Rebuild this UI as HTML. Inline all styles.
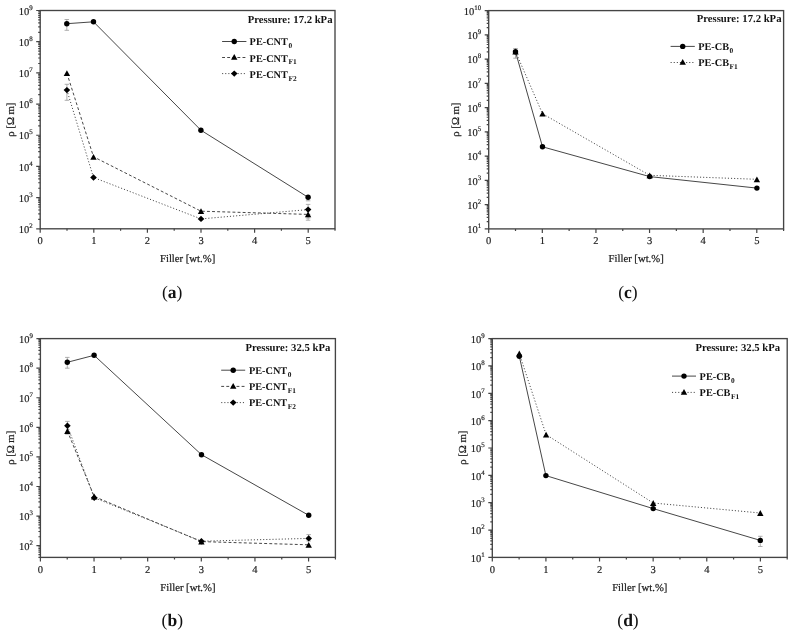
<!DOCTYPE html>
<html><head><meta charset="utf-8"><title>Resistivity vs filler</title>
<style>
html,body{margin:0;padding:0;background:#fff;}
body{width:794px;height:637px;overflow:hidden;}
svg{display:block;filter:grayscale(1);}
text{font-family:"Liberation Serif",serif;fill:#1c1c1c;text-rendering:geometricPrecision;}
.tl{font-size:10.5px;stroke:#1c1c1c;stroke-width:0.18px;}
.sup{font-size:6.9px;}
.at{font-size:10.7px;stroke:#1c1c1c;stroke-width:0.22px;}
.pr{font-size:10.7px;font-weight:bold;fill:#111;}
.lg{font-size:10.3px;font-weight:bold;fill:#111;}
.sub{font-size:7.4px;}
.cap{font-size:17.5px;fill:#111;}
</style></head>
<body>
<svg width="794" height="637" viewBox="0 0 794 637">
<rect width="794" height="637" fill="#fff"/>
<rect x="40.2" y="10.5" width="294.8" height="218.3" fill="none" stroke="#444444" stroke-width="1.35"/>
<path d="M40.2 228.8v4M67 228.8v2M93.8 228.8v4M120.6 228.8v2M147.4 228.8v4M174.2 228.8v2M201 228.8v4M227.8 228.8v2M254.6 228.8v4M281.4 228.8v2M308.2 228.8v4M335 228.8v2M40.2 228.8h-4M40.2 219.41h-2M40.2 213.92h-2M40.2 210.02h-2M40.2 207h-2M40.2 204.53h-2M40.2 202.45h-2M40.2 200.64h-2M40.2 199.04h-2M40.2 197.61h-4M40.2 188.23h-2M40.2 182.73h-2M40.2 178.84h-2M40.2 175.82h-2M40.2 173.35h-2M40.2 171.26h-2M40.2 169.45h-2M40.2 167.86h-2M40.2 166.43h-4M40.2 157.04h-2M40.2 151.55h-2M40.2 147.65h-2M40.2 144.63h-2M40.2 142.16h-2M40.2 140.07h-2M40.2 138.27h-2M40.2 136.67h-2M40.2 135.24h-4M40.2 125.86h-2M40.2 120.36h-2M40.2 116.47h-2M40.2 113.44h-2M40.2 110.98h-2M40.2 108.89h-2M40.2 107.08h-2M40.2 105.48h-2M40.2 104.06h-4M40.2 94.67h-2M40.2 89.18h-2M40.2 85.28h-2M40.2 82.26h-2M40.2 79.79h-2M40.2 77.7h-2M40.2 75.89h-2M40.2 74.3h-2M40.2 72.87h-4M40.2 63.48h-2M40.2 57.99h-2M40.2 54.1h-2M40.2 51.07h-2M40.2 48.6h-2M40.2 46.52h-2M40.2 44.71h-2M40.2 43.11h-2M40.2 41.69h-4M40.2 32.3h-2M40.2 26.81h-2M40.2 22.91h-2M40.2 19.89h-2M40.2 17.42h-2M40.2 15.33h-2M40.2 13.52h-2M40.2 11.93h-2M40.2 10.5h-4" stroke="#444444" stroke-width="1.2" fill="none"/>
<text x="40.2" y="244.3" text-anchor="middle" class="tl">0</text>
<text x="93.8" y="244.3" text-anchor="middle" class="tl">1</text>
<text x="147.4" y="244.3" text-anchor="middle" class="tl">2</text>
<text x="201" y="244.3" text-anchor="middle" class="tl">3</text>
<text x="254.6" y="244.3" text-anchor="middle" class="tl">4</text>
<text x="308.2" y="244.3" text-anchor="middle" class="tl">5</text>
<text x="32.7" y="233" text-anchor="end" class="tl">10<tspan class="sup" dy="-5.0">2</tspan></text>
<text x="32.7" y="201.81" text-anchor="end" class="tl">10<tspan class="sup" dy="-5.0">3</tspan></text>
<text x="32.7" y="170.63" text-anchor="end" class="tl">10<tspan class="sup" dy="-5.0">4</tspan></text>
<text x="32.7" y="139.44" text-anchor="end" class="tl">10<tspan class="sup" dy="-5.0">5</tspan></text>
<text x="32.7" y="108.26" text-anchor="end" class="tl">10<tspan class="sup" dy="-5.0">6</tspan></text>
<text x="32.7" y="77.07" text-anchor="end" class="tl">10<tspan class="sup" dy="-5.0">7</tspan></text>
<text x="32.7" y="45.89" text-anchor="end" class="tl">10<tspan class="sup" dy="-5.0">8</tspan></text>
<text x="32.7" y="14.7" text-anchor="end" class="tl">10<tspan class="sup" dy="-5.0">9</tspan></text>
<text x="187.6" y="262.1" text-anchor="middle" class="at">Filler [wt.%]</text>
<text transform="translate(13.8 119.6) rotate(-90)" text-anchor="middle" class="at">ρ [Ω m]</text>
<path d="M66.8 19.5V30.3M64.55 19.5h4.5M64.55 30.3h4.5" stroke="#9a9a9a" stroke-width="0.8" fill="none"/>
<path d="M66.9 84.3V100.3M64.65 84.3h4.5M64.65 100.3h4.5" stroke="#9a9a9a" stroke-width="0.8" fill="none"/>
<path d="M308.1 197.3V200.8M305.85 197.3h4.5M305.85 200.8h4.5" stroke="#9a9a9a" stroke-width="0.8" fill="none"/>
<path d="M308.1 204.4V220.2M305.85 204.4h4.5M305.85 220.2h4.5" stroke="#9a9a9a" stroke-width="0.8" fill="none"/>
<path d="M308.1 214.4V218M305.85 214.4h4.5M305.85 218h4.5" stroke="#9a9a9a" stroke-width="0.8" fill="none"/>
<path d="M66.8 23.7L93.5 21.8L200.9 130.2L308.1 197.3" stroke="#474747" stroke-width="1" fill="none"/>
<path d="M66.9 73.2L93.5 156.8L201 211.2L308.1 214.4" stroke="#474747" stroke-width="1" fill="none" stroke-dasharray="2.9 2.2"/>
<path d="M66.9 90.1L93.5 177.5L201 218.9L308.1 209.6" stroke="#474747" stroke-width="1" fill="none" stroke-dasharray="1.1 2"/>
<circle cx="66.8" cy="23.7" r="2.7" fill="#000"/>
<circle cx="93.5" cy="21.8" r="2.7" fill="#000"/>
<circle cx="200.9" cy="130.2" r="2.7" fill="#000"/>
<circle cx="308.1" cy="197.3" r="2.7" fill="#000"/>
<path d="M66.9 70.3L70.1 76.1L63.7 76.1Z" fill="#000"/>
<path d="M93.5 153.9L96.7 159.7L90.3 159.7Z" fill="#000"/>
<path d="M201 208.3L204.2 214.1L197.8 214.1Z" fill="#000"/>
<path d="M308.1 211.5L311.3 217.3L304.9 217.3Z" fill="#000"/>
<path d="M66.9 86.9L70.2 90.1L66.9 93.3L63.6 90.1Z" fill="#000"/>
<path d="M93.5 174.3L96.8 177.5L93.5 180.7L90.2 177.5Z" fill="#000"/>
<path d="M201 215.7L204.3 218.9L201 222.1L197.7 218.9Z" fill="#000"/>
<path d="M308.1 206.4L311.4 209.6L308.1 212.8L304.8 209.6Z" fill="#000"/>
<text x="332.5" y="22.9" text-anchor="end" class="pr">Pressure: 17.2 kPa</text>
<path d="M222.1 41.5L246.4 41.5" stroke="#474747" stroke-width="1" fill="none"/>
<circle cx="234.25" cy="41.5" r="2.7" fill="#000"/>
<text x="249.6" y="45.4" class="lg">PE-CNT<tspan class="sub" dx="0.5" dy="2.9">0</tspan></text>
<path d="M222.1 57.5L246.4 57.5" stroke="#474747" stroke-width="1" fill="none" stroke-dasharray="2.9 2.2"/>
<path d="M234.25 54.05L237.45 59.85L231.05 59.85Z" fill="#000"/>
<text x="249.6" y="61.5" class="lg">PE-CNT<tspan class="sub" dx="0.5" dy="2.9">F1</tspan></text>
<path d="M222.1 73.6L246.4 73.6" stroke="#474747" stroke-width="1" fill="none" stroke-dasharray="1.1 2"/>
<path d="M234.25 70.4L237.55 73.6L234.25 76.8L230.95 73.6Z" fill="#000"/>
<text x="249.6" y="77.6" class="lg">PE-CNT<tspan class="sub" dx="0.5" dy="2.9">F2</tspan></text>
<text x="172.2" y="297.6" text-anchor="middle" class="cap">(<tspan font-weight="bold">a</tspan>)</text>
<rect x="488.7" y="10.6" width="294.9" height="218.3" fill="none" stroke="#444444" stroke-width="1.35"/>
<path d="M488.7 228.9v4M515.51 228.9v2M542.32 228.9v4M569.13 228.9v2M595.94 228.9v4M622.75 228.9v2M649.55 228.9v4M676.36 228.9v2M703.17 228.9v4M729.98 228.9v2M756.79 228.9v4M783.6 228.9v2M488.7 228.9h-4M488.7 221.6h-2M488.7 217.33h-2M488.7 214.3h-2M488.7 211.95h-2M488.7 210.03h-2M488.7 208.4h-2M488.7 207h-2M488.7 205.75h-2M488.7 204.64h-4M488.7 197.34h-2M488.7 193.07h-2M488.7 190.04h-2M488.7 187.69h-2M488.7 185.77h-2M488.7 184.15h-2M488.7 182.74h-2M488.7 181.5h-2M488.7 180.39h-4M488.7 173.09h-2M488.7 168.82h-2M488.7 165.79h-2M488.7 163.43h-2M488.7 161.51h-2M488.7 159.89h-2M488.7 158.48h-2M488.7 157.24h-2M488.7 156.13h-4M488.7 148.83h-2M488.7 144.56h-2M488.7 141.53h-2M488.7 139.18h-2M488.7 137.26h-2M488.7 135.64h-2M488.7 134.23h-2M488.7 132.99h-2M488.7 131.88h-4M488.7 124.58h-2M488.7 120.3h-2M488.7 117.27h-2M488.7 114.92h-2M488.7 113h-2M488.7 111.38h-2M488.7 109.97h-2M488.7 108.73h-2M488.7 107.62h-4M488.7 100.32h-2M488.7 96.05h-2M488.7 93.02h-2M488.7 90.67h-2M488.7 88.75h-2M488.7 87.12h-2M488.7 85.72h-2M488.7 84.48h-2M488.7 83.37h-4M488.7 76.07h-2M488.7 71.79h-2M488.7 68.76h-2M488.7 66.41h-2M488.7 64.49h-2M488.7 62.87h-2M488.7 61.46h-2M488.7 60.22h-2M488.7 59.11h-4M488.7 51.81h-2M488.7 47.54h-2M488.7 44.51h-2M488.7 42.16h-2M488.7 40.24h-2M488.7 38.61h-2M488.7 37.21h-2M488.7 35.97h-2M488.7 34.86h-4M488.7 27.55h-2M488.7 23.28h-2M488.7 20.25h-2M488.7 17.9h-2M488.7 15.98h-2M488.7 14.36h-2M488.7 12.95h-2M488.7 11.71h-2M488.7 10.6h-4" stroke="#444444" stroke-width="1.2" fill="none"/>
<text x="488.7" y="244.4" text-anchor="middle" class="tl">0</text>
<text x="542.32" y="244.4" text-anchor="middle" class="tl">1</text>
<text x="595.94" y="244.4" text-anchor="middle" class="tl">2</text>
<text x="649.55" y="244.4" text-anchor="middle" class="tl">3</text>
<text x="703.17" y="244.4" text-anchor="middle" class="tl">4</text>
<text x="756.79" y="244.4" text-anchor="middle" class="tl">5</text>
<text x="481.2" y="233.1" text-anchor="end" class="tl">10<tspan class="sup" dy="-5.0">1</tspan></text>
<text x="481.2" y="208.84" text-anchor="end" class="tl">10<tspan class="sup" dy="-5.0">2</tspan></text>
<text x="481.2" y="184.59" text-anchor="end" class="tl">10<tspan class="sup" dy="-5.0">3</tspan></text>
<text x="481.2" y="160.33" text-anchor="end" class="tl">10<tspan class="sup" dy="-5.0">4</tspan></text>
<text x="481.2" y="136.08" text-anchor="end" class="tl">10<tspan class="sup" dy="-5.0">5</tspan></text>
<text x="481.2" y="111.82" text-anchor="end" class="tl">10<tspan class="sup" dy="-5.0">6</tspan></text>
<text x="481.2" y="87.57" text-anchor="end" class="tl">10<tspan class="sup" dy="-5.0">7</tspan></text>
<text x="481.2" y="63.31" text-anchor="end" class="tl">10<tspan class="sup" dy="-5.0">8</tspan></text>
<text x="481.2" y="39.06" text-anchor="end" class="tl">10<tspan class="sup" dy="-5.0">9</tspan></text>
<text x="481.2" y="14.8" text-anchor="end" class="tl">10<tspan class="sup" dy="-5.0">10</tspan></text>
<text x="636.15" y="262.2" text-anchor="middle" class="at">Filler [wt.%]</text>
<text transform="translate(458.5 119.6) rotate(-90)" text-anchor="middle" class="at">ρ [Ω m]</text>
<path d="M515.5 48.5V58.2M513.25 48.5h4.5M513.25 58.2h4.5" stroke="#9a9a9a" stroke-width="0.8" fill="none"/>
<path d="M515.5 51.8L542.5 146.8L649.7 176.6L756.9 188.1" stroke="#474747" stroke-width="1" fill="none"/>
<path d="M515.5 51.5L542.5 113.7L649.7 175.3L756.9 179.3" stroke="#474747" stroke-width="1" fill="none" stroke-dasharray="1.1 2"/>
<circle cx="515.5" cy="51.8" r="2.7" fill="#000"/>
<circle cx="542.5" cy="146.8" r="2.7" fill="#000"/>
<circle cx="649.7" cy="176.6" r="2.7" fill="#000"/>
<circle cx="756.9" cy="188.1" r="2.7" fill="#000"/>
<path d="M515.5 48.6L518.7 54.4L512.3 54.4Z" fill="#000"/>
<path d="M542.5 110.8L545.7 116.6L539.3 116.6Z" fill="#000"/>
<path d="M649.7 172.4L652.9 178.2L646.5 178.2Z" fill="#000"/>
<path d="M756.9 176.4L760.1 182.2L753.7 182.2Z" fill="#000"/>
<text x="781.5" y="22.2" text-anchor="end" class="pr">Pressure: 17.2 kPa</text>
<path d="M670.6 46.4L694.8 46.4" stroke="#474747" stroke-width="1" fill="none"/>
<circle cx="682.7" cy="46.4" r="2.7" fill="#000"/>
<text x="698.2" y="50.1" class="lg">PE-CB<tspan class="sub" dx="0.5" dy="2.9">0</tspan></text>
<path d="M670.6 62.5L694.8 62.5" stroke="#474747" stroke-width="1" fill="none" stroke-dasharray="1.1 2"/>
<path d="M682.7 59.05L685.9 64.85L679.5 64.85Z" fill="#000"/>
<text x="698.2" y="66" class="lg">PE-CB<tspan class="sub" dx="0.5" dy="2.9">F1</tspan></text>
<text x="627.9" y="297.6" text-anchor="middle" class="cap">(<tspan font-weight="bold">c</tspan>)</text>
<rect x="40.4" y="338.6" width="295" height="218.8" fill="none" stroke="#444444" stroke-width="1.35"/>
<path d="M40.4 557.4v4M67.22 557.4v2M94.04 557.4v4M120.85 557.4v2M147.67 557.4v4M174.49 557.4v2M201.31 557.4v4M228.13 557.4v2M254.95 557.4v4M281.76 557.4v2M308.58 557.4v4M335.4 557.4v2M40.4 557.4h-2M40.4 554.53h-2M40.4 552.19h-2M40.4 550.21h-2M40.4 548.5h-2M40.4 546.98h-2M40.4 545.63h-4M40.4 536.73h-2M40.4 531.52h-2M40.4 527.82h-2M40.4 524.96h-2M40.4 522.62h-2M40.4 520.64h-2M40.4 518.92h-2M40.4 517.41h-2M40.4 516.05h-4M40.4 507.15h-2M40.4 501.94h-2M40.4 498.25h-2M40.4 495.38h-2M40.4 493.04h-2M40.4 491.06h-2M40.4 489.35h-2M40.4 487.83h-2M40.4 486.48h-4M40.4 477.58h-2M40.4 472.37h-2M40.4 468.67h-2M40.4 465.81h-2M40.4 463.46h-2M40.4 461.48h-2M40.4 459.77h-2M40.4 458.26h-2M40.4 456.9h-4M40.4 448h-2M40.4 442.79h-2M40.4 439.1h-2M40.4 436.23h-2M40.4 433.89h-2M40.4 431.91h-2M40.4 430.19h-2M40.4 428.68h-2M40.4 427.33h-4M40.4 418.42h-2M40.4 413.22h-2M40.4 409.52h-2M40.4 406.65h-2M40.4 404.31h-2M40.4 402.33h-2M40.4 400.62h-2M40.4 399.1h-2M40.4 397.75h-4M40.4 388.85h-2M40.4 383.64h-2M40.4 379.95h-2M40.4 377.08h-2M40.4 374.74h-2M40.4 372.76h-2M40.4 371.04h-2M40.4 369.53h-2M40.4 368.18h-4M40.4 359.27h-2M40.4 354.06h-2M40.4 350.37h-2M40.4 347.5h-2M40.4 345.16h-2M40.4 343.18h-2M40.4 341.47h-2M40.4 339.95h-2M40.4 338.6h-4" stroke="#444444" stroke-width="1.2" fill="none"/>
<text x="40.4" y="572.9" text-anchor="middle" class="tl">0</text>
<text x="94.04" y="572.9" text-anchor="middle" class="tl">1</text>
<text x="147.67" y="572.9" text-anchor="middle" class="tl">2</text>
<text x="201.31" y="572.9" text-anchor="middle" class="tl">3</text>
<text x="254.95" y="572.9" text-anchor="middle" class="tl">4</text>
<text x="308.58" y="572.9" text-anchor="middle" class="tl">5</text>
<text x="32.9" y="549.83" text-anchor="end" class="tl">10<tspan class="sup" dy="-5.0">2</tspan></text>
<text x="32.9" y="520.25" text-anchor="end" class="tl">10<tspan class="sup" dy="-5.0">3</tspan></text>
<text x="32.9" y="490.68" text-anchor="end" class="tl">10<tspan class="sup" dy="-5.0">4</tspan></text>
<text x="32.9" y="461.1" text-anchor="end" class="tl">10<tspan class="sup" dy="-5.0">5</tspan></text>
<text x="32.9" y="431.53" text-anchor="end" class="tl">10<tspan class="sup" dy="-5.0">6</tspan></text>
<text x="32.9" y="401.95" text-anchor="end" class="tl">10<tspan class="sup" dy="-5.0">7</tspan></text>
<text x="32.9" y="372.38" text-anchor="end" class="tl">10<tspan class="sup" dy="-5.0">8</tspan></text>
<text x="32.9" y="342.8" text-anchor="end" class="tl">10<tspan class="sup" dy="-5.0">9</tspan></text>
<text x="187.9" y="590.7" text-anchor="middle" class="at">Filler [wt.%]</text>
<text transform="translate(14.3 447.8) rotate(-90)" text-anchor="middle" class="at">ρ [Ω m]</text>
<path d="M67.3 357.4V368.2M65.05 357.4h4.5M65.05 368.2h4.5" stroke="#9a9a9a" stroke-width="0.8" fill="none"/>
<path d="M67.4 421.4V434.1M65.15 421.4h4.5M65.15 434.1h4.5" stroke="#9a9a9a" stroke-width="0.8" fill="none"/>
<path d="M308.7 534.6V541M306.45 534.6h4.5M306.45 541h4.5" stroke="#9a9a9a" stroke-width="0.8" fill="none"/>
<path d="M67.3 362.3L94.1 355.3L201.5 454.7L308.7 515.3" stroke="#474747" stroke-width="1" fill="none"/>
<path d="M67.4 431L94.2 496.5L201.4 541.6L308.7 544.8" stroke="#474747" stroke-width="1" fill="none" stroke-dasharray="2.9 2.2"/>
<path d="M67.4 425.8L94.2 497.7L201.4 541.2L308.7 538.4" stroke="#474747" stroke-width="1" fill="none" stroke-dasharray="1.1 2"/>
<circle cx="67.3" cy="362.3" r="2.7" fill="#000"/>
<circle cx="94.1" cy="355.3" r="2.7" fill="#000"/>
<circle cx="201.5" cy="454.7" r="2.7" fill="#000"/>
<circle cx="308.7" cy="515.3" r="2.7" fill="#000"/>
<path d="M67.4 428.1L70.6 433.9L64.2 433.9Z" fill="#000"/>
<path d="M94.2 493.6L97.4 499.4L91 499.4Z" fill="#000"/>
<path d="M201.4 538.7L204.6 544.5L198.2 544.5Z" fill="#000"/>
<path d="M308.7 541.9L311.9 547.7L305.5 547.7Z" fill="#000"/>
<path d="M67.4 422.6L70.7 425.8L67.4 429L64.1 425.8Z" fill="#000"/>
<path d="M94.2 494.5L97.5 497.7L94.2 500.9L90.9 497.7Z" fill="#000"/>
<path d="M201.4 538L204.7 541.2L201.4 544.4L198.1 541.2Z" fill="#000"/>
<path d="M308.7 535.2L312 538.4L308.7 541.6L305.4 538.4Z" fill="#000"/>
<text x="330.3" y="351.1" text-anchor="end" class="pr">Pressure: 32.5 kPa</text>
<path d="M221.2 370.2L245.2 370.2" stroke="#474747" stroke-width="1" fill="none"/>
<circle cx="233.2" cy="370.2" r="2.7" fill="#000"/>
<text x="248.9" y="374.3" class="lg">PE-CNT<tspan class="sub" dx="0.5" dy="2.9">0</tspan></text>
<path d="M221.2 386.4L245.2 386.4" stroke="#474747" stroke-width="1" fill="none" stroke-dasharray="2.9 2.2"/>
<path d="M233.2 382.95L236.4 388.75L230 388.75Z" fill="#000"/>
<text x="248.9" y="390.2" class="lg">PE-CNT<tspan class="sub" dx="0.5" dy="2.9">F1</tspan></text>
<path d="M221.2 402.6L245.2 402.6" stroke="#474747" stroke-width="1" fill="none" stroke-dasharray="1.1 2"/>
<path d="M233.2 399.4L236.5 402.6L233.2 405.8L229.9 402.6Z" fill="#000"/>
<text x="248.9" y="406" class="lg">PE-CNT<tspan class="sub" dx="0.5" dy="2.9">F2</tspan></text>
<text x="172.3" y="625.6" text-anchor="middle" class="cap">(<tspan font-weight="bold">b</tspan>)</text>
<rect x="492.3" y="338.6" width="294.9" height="218.8" fill="none" stroke="#444444" stroke-width="1.35"/>
<path d="M492.3 557.4v4M519.11 557.4v2M545.92 557.4v4M572.73 557.4v2M599.54 557.4v4M626.35 557.4v2M653.15 557.4v4M679.96 557.4v2M706.77 557.4v4M733.58 557.4v2M760.39 557.4v4M787.2 557.4v2M492.3 557.4h-4M492.3 549.17h-2M492.3 544.35h-2M492.3 540.93h-2M492.3 538.28h-2M492.3 536.12h-2M492.3 534.29h-2M492.3 532.7h-2M492.3 531.3h-2M492.3 530.05h-4M492.3 521.82h-2M492.3 517h-2M492.3 513.58h-2M492.3 510.93h-2M492.3 508.77h-2M492.3 506.94h-2M492.3 505.35h-2M492.3 503.95h-2M492.3 502.7h-4M492.3 494.47h-2M492.3 489.65h-2M492.3 486.23h-2M492.3 483.58h-2M492.3 481.42h-2M492.3 479.59h-2M492.3 478h-2M492.3 476.6h-2M492.3 475.35h-4M492.3 467.12h-2M492.3 462.3h-2M492.3 458.88h-2M492.3 456.23h-2M492.3 454.07h-2M492.3 452.24h-2M492.3 450.65h-2M492.3 449.25h-2M492.3 448h-4M492.3 439.77h-2M492.3 434.95h-2M492.3 431.53h-2M492.3 428.88h-2M492.3 426.72h-2M492.3 424.89h-2M492.3 423.3h-2M492.3 421.9h-2M492.3 420.65h-4M492.3 412.42h-2M492.3 407.6h-2M492.3 404.18h-2M492.3 401.53h-2M492.3 399.37h-2M492.3 397.54h-2M492.3 395.95h-2M492.3 394.55h-2M492.3 393.3h-4M492.3 385.07h-2M492.3 380.25h-2M492.3 376.83h-2M492.3 374.18h-2M492.3 372.02h-2M492.3 370.19h-2M492.3 368.6h-2M492.3 367.2h-2M492.3 365.95h-4M492.3 357.72h-2M492.3 352.9h-2M492.3 349.48h-2M492.3 346.83h-2M492.3 344.67h-2M492.3 342.84h-2M492.3 341.25h-2M492.3 339.85h-2M492.3 338.6h-4" stroke="#444444" stroke-width="1.2" fill="none"/>
<text x="492.3" y="572.9" text-anchor="middle" class="tl">0</text>
<text x="545.92" y="572.9" text-anchor="middle" class="tl">1</text>
<text x="599.54" y="572.9" text-anchor="middle" class="tl">2</text>
<text x="653.15" y="572.9" text-anchor="middle" class="tl">3</text>
<text x="706.77" y="572.9" text-anchor="middle" class="tl">4</text>
<text x="760.39" y="572.9" text-anchor="middle" class="tl">5</text>
<text x="484.8" y="561.6" text-anchor="end" class="tl">10<tspan class="sup" dy="-5.0">1</tspan></text>
<text x="484.8" y="534.25" text-anchor="end" class="tl">10<tspan class="sup" dy="-5.0">2</tspan></text>
<text x="484.8" y="506.9" text-anchor="end" class="tl">10<tspan class="sup" dy="-5.0">3</tspan></text>
<text x="484.8" y="479.55" text-anchor="end" class="tl">10<tspan class="sup" dy="-5.0">4</tspan></text>
<text x="484.8" y="452.2" text-anchor="end" class="tl">10<tspan class="sup" dy="-5.0">5</tspan></text>
<text x="484.8" y="424.85" text-anchor="end" class="tl">10<tspan class="sup" dy="-5.0">6</tspan></text>
<text x="484.8" y="397.5" text-anchor="end" class="tl">10<tspan class="sup" dy="-5.0">7</tspan></text>
<text x="484.8" y="370.15" text-anchor="end" class="tl">10<tspan class="sup" dy="-5.0">8</tspan></text>
<text x="484.8" y="342.8" text-anchor="end" class="tl">10<tspan class="sup" dy="-5.0">9</tspan></text>
<text x="639.75" y="590.7" text-anchor="middle" class="at">Filler [wt.%]</text>
<text transform="translate(465.8 447.7) rotate(-90)" text-anchor="middle" class="at">ρ [Ω m]</text>
<path d="M760.3 536.3V546.5M758.05 536.3h4.5M758.05 546.5h4.5" stroke="#9a9a9a" stroke-width="0.8" fill="none"/>
<path d="M519.3 356.2L545.9 475.6L653.2 508.6L760.3 540.4" stroke="#474747" stroke-width="1" fill="none"/>
<path d="M519.3 353.5L546.1 434.6L653.2 503L760.3 513" stroke="#474747" stroke-width="1" fill="none" stroke-dasharray="1.1 2"/>
<circle cx="519.3" cy="356.2" r="2.7" fill="#000"/>
<circle cx="545.9" cy="475.6" r="2.7" fill="#000"/>
<circle cx="653.2" cy="508.6" r="2.7" fill="#000"/>
<circle cx="760.3" cy="540.4" r="2.7" fill="#000"/>
<path d="M519.3 350.6L522.5 356.4L516.1 356.4Z" fill="#000"/>
<path d="M546.1 431.7L549.3 437.5L542.9 437.5Z" fill="#000"/>
<path d="M653.2 500.1L656.4 505.9L650 505.9Z" fill="#000"/>
<path d="M760.3 510.1L763.5 515.9L757.1 515.9Z" fill="#000"/>
<text x="780.2" y="351.3" text-anchor="end" class="pr">Pressure: 32.5 kPa</text>
<path d="M672 376.1L696 376.1" stroke="#474747" stroke-width="1" fill="none"/>
<circle cx="684" cy="376.1" r="2.7" fill="#000"/>
<text x="699.6" y="380" class="lg">PE-CB<tspan class="sub" dx="0.5" dy="2.9">0</tspan></text>
<path d="M672 392.4L696 392.4" stroke="#474747" stroke-width="1" fill="none" stroke-dasharray="1.1 2"/>
<path d="M684 388.95L687.2 394.75L680.8 394.75Z" fill="#000"/>
<text x="699.6" y="396.1" class="lg">PE-CB<tspan class="sub" dx="0.5" dy="2.9">F1</tspan></text>
<text x="628" y="625.6" text-anchor="middle" class="cap">(<tspan font-weight="bold">d</tspan>)</text>
</svg>
</body></html>
